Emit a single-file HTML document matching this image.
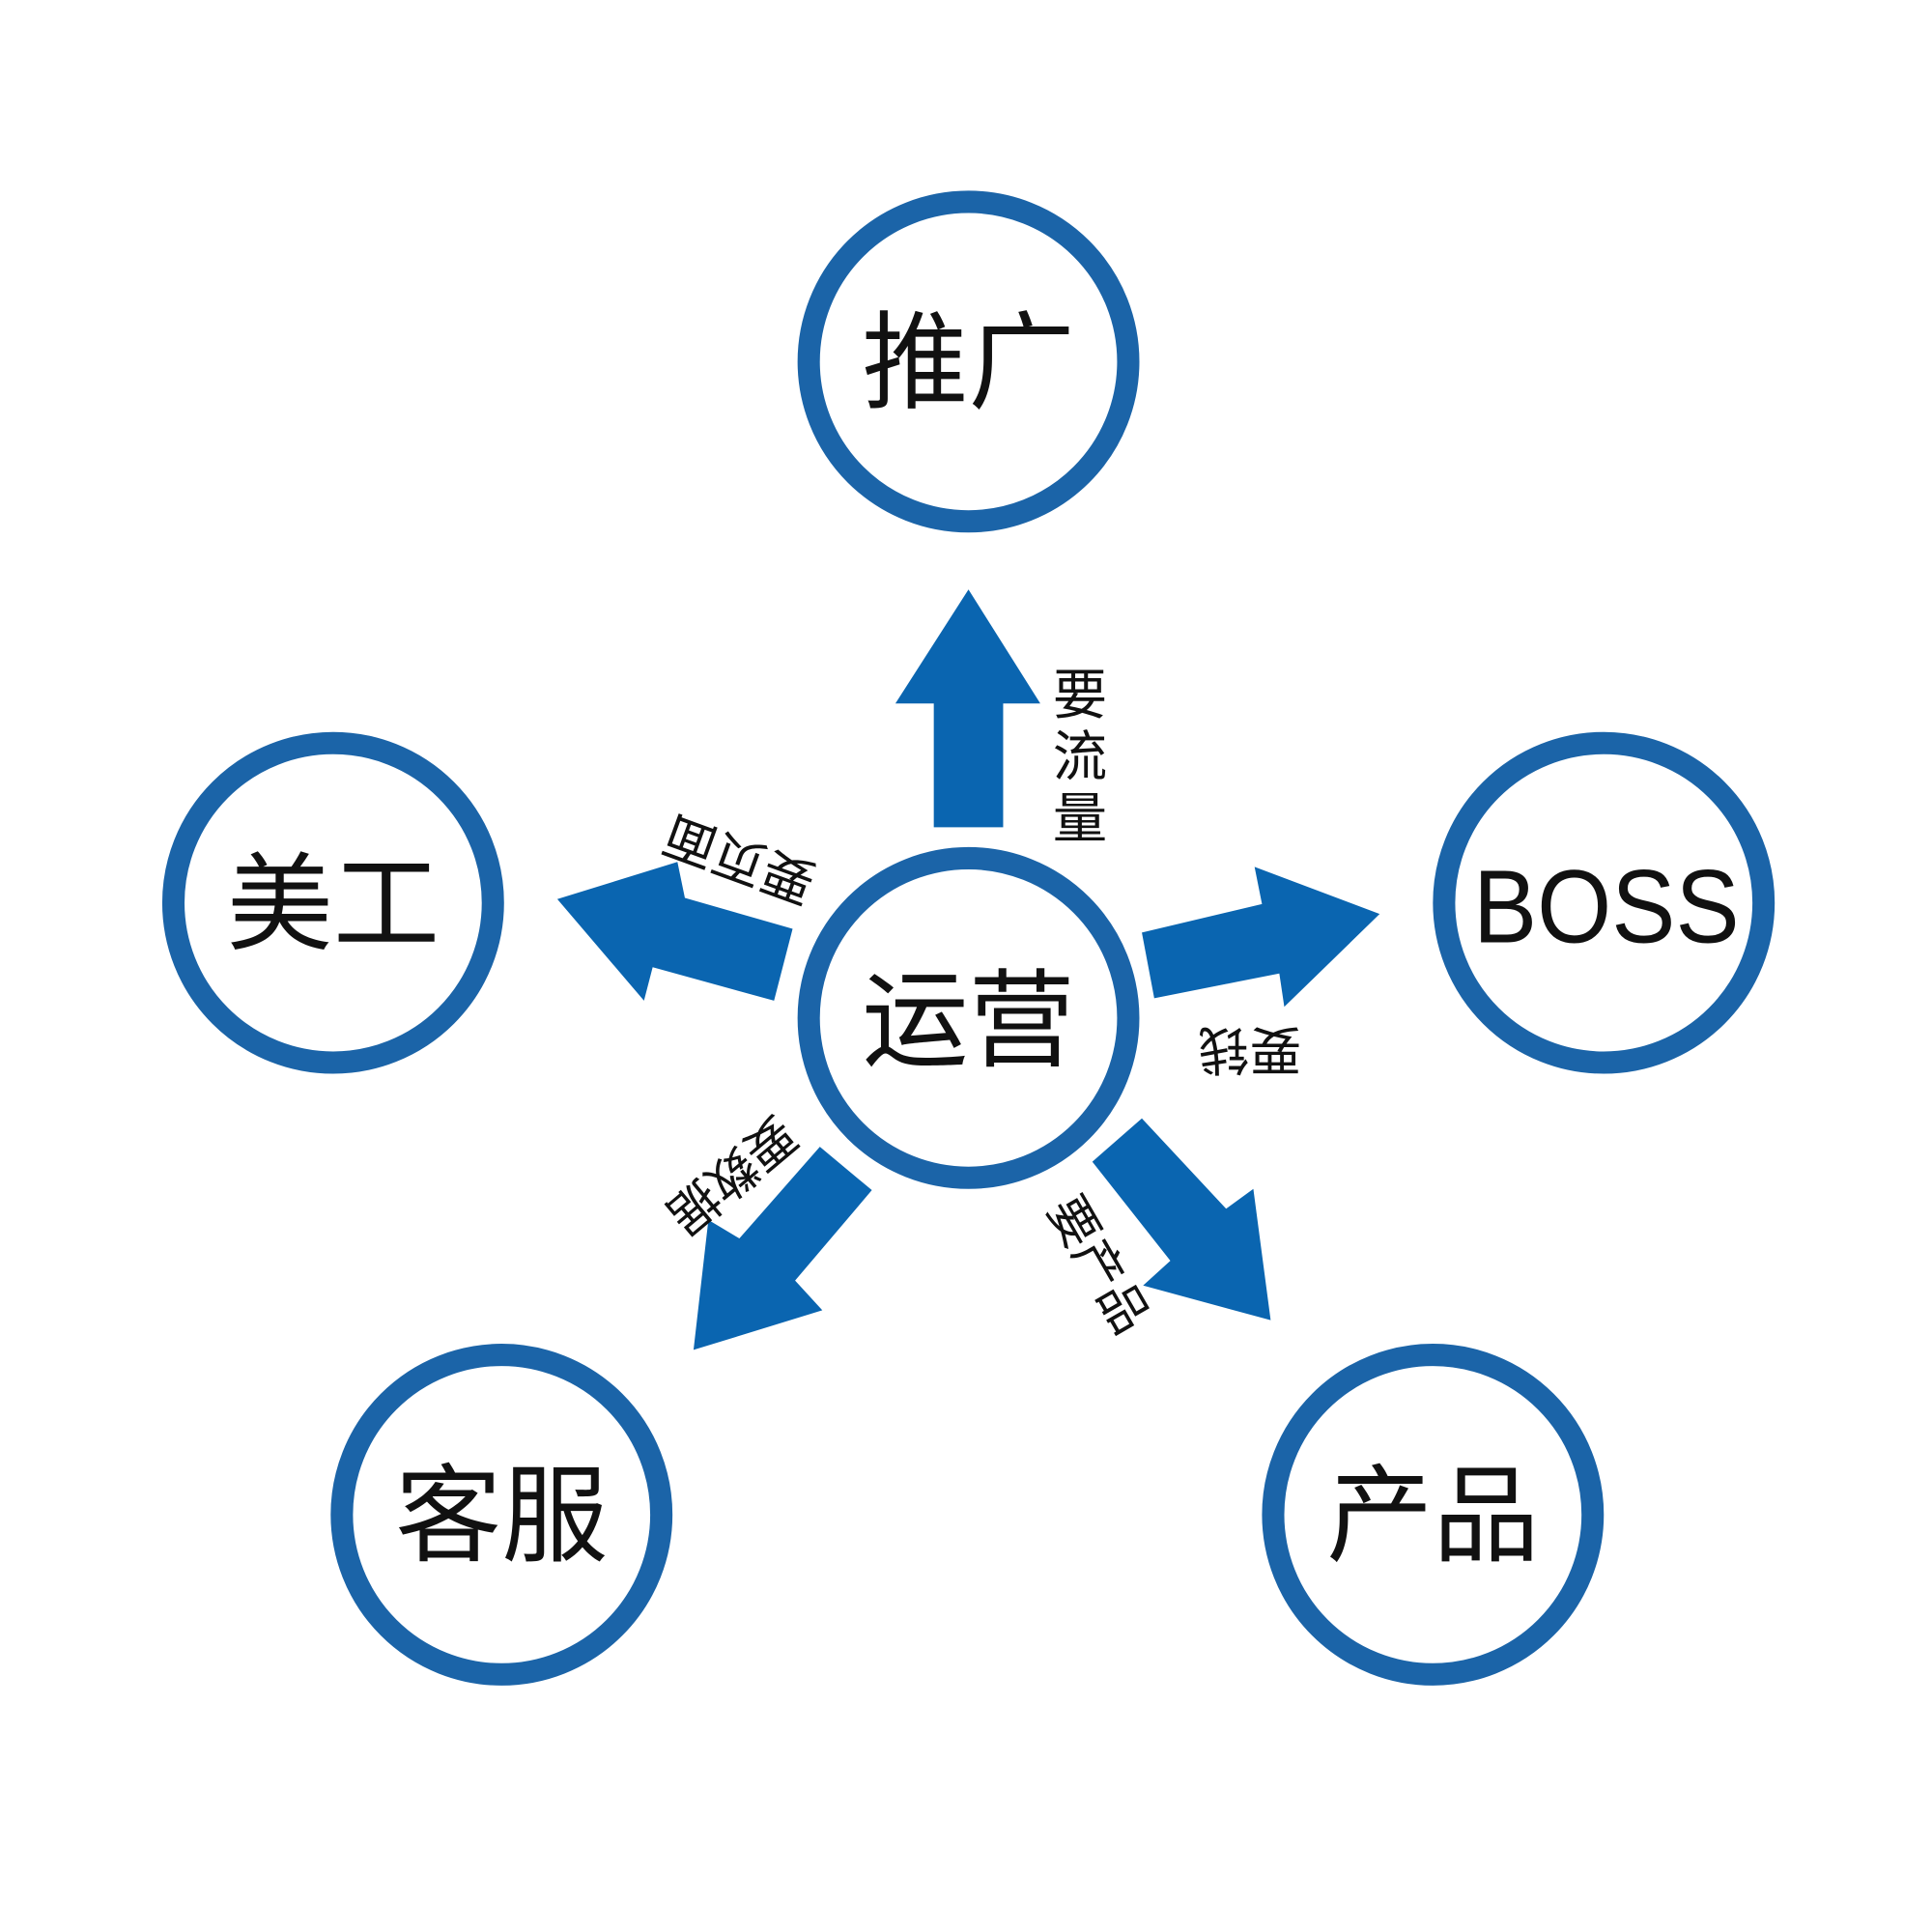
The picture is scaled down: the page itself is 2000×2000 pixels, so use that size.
<!DOCTYPE html>
<html><head><meta charset="utf-8"><style>
html,body{margin:0;padding:0;background:#fff;}
svg{display:block}
text{font-family:"Liberation Sans","Noto Sans CJK SC",sans-serif;fill:#111}
</style></head><body>
<svg width="2000" height="2000" viewBox="0 0 1560 1560" xmlns="http://www.w3.org/2000/svg">
<rect width="1560" height="1560" fill="#fff"/>
<g transform="translate(-3,-2)">
<g fill="none" stroke="#1b64a8" stroke-width="18">
<circle cx="785" cy="294" r="129"/>
<circle cx="272" cy="731" r="129"/>
<circle cx="1298" cy="731" r="129"/>
<circle cx="408" cy="1225" r="129"/>
<circle cx="1160" cy="1225" r="129"/>
<circle cx="785" cy="824" r="129"/>
</g>
<g fill="#0a65b0">
<polygon points="757,670 813,670 813,570 843,570 785,478 726,570 757,570"/>
<polygon points="925,755 1022,732 1016,702 1117,740 1040,815 1036,788 935,808"/>
<polygon points="643,752 556,727 550,698 453,728 523,810 530,783 628,810"/>
<polygon points="665,928 707,963 645,1036 667,1060 563,1092 575,987 600,1002"/>
<polygon points="925,905 885,940 948,1020 926,1040 1029,1068 1015,962 993,978"/>
</g>
<g font-size="86" text-anchor="middle">
<text x="785" y="325">推广</text>
<text x="272" y="762">美工</text>
<text x="1300" y="763" font-size="84" textLength="215" lengthAdjust="spacingAndGlyphs">BOSS</text>
<text x="408" y="1256">客服</text>
<text x="1160" y="1256">产品</text>
<text x="785" y="856">运营</text>
</g>
<g font-size="44">
<text x="875" y="578" text-anchor="middle">要</text>
<text x="875" y="628" text-anchor="middle">流</text>
<text x="875" y="678" text-anchor="middle">量</text>
<text transform="translate(605,682) rotate(200)" text-anchor="middle" font-size="42">要页面</text>
<text transform="translate(1012,835) rotate(180)" text-anchor="middle" font-size="42">要钱</text>
<text transform="translate(585,940) rotate(140)" text-anchor="middle" font-size="40">要数据</text>
<text transform="translate(878,1030) rotate(60)" text-anchor="middle" font-size="40">要产品</text>
</g>
</g>
</svg>
</body></html>
